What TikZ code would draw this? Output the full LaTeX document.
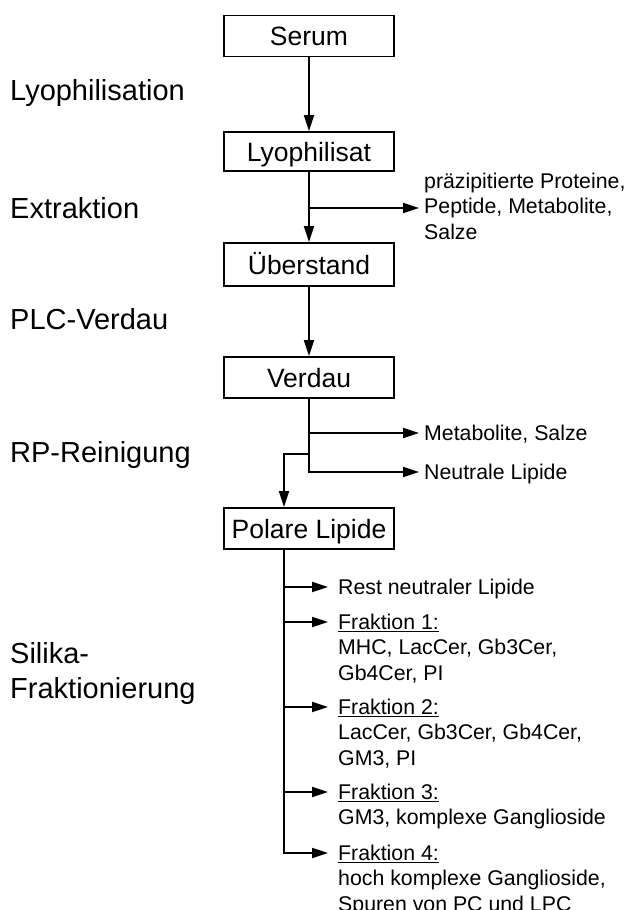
\documentclass[tikz,border=0pt]{standalone}
\usepackage{fontspec}
\setmainfont{Liberation Sans}
\usetikzlibrary{arrows.meta}
\newcommand\phasefont{\fontsize{29}{35}\selectfont}
\newcommand\boxfont{\fontsize{26.5}{32}\selectfont}
\newcommand\sidefont{\fontsize{21.3}{25.5}\selectfont}
\newcommand\fkline[1]{\setbox0\hbox{#1}\rlap{\rule[-3.2pt]{\wd0}{1.2pt}}\box0}
\newcommand\lines[1]{\begin{tabular}[t]{@{}l@{}}#1\end{tabular}}
\begin{document}
\begin{tikzpicture}[x=1pt,y=-1pt,
  stepbox/.style={draw,line width=1.8pt,minimum width=170pt,minimum height=41pt,inner sep=0pt,font=\boxfont,text height=19pt,text depth=0pt},
  phase/.style={anchor=base west,inner sep=0pt,font=\phasefont},
  side/.style={anchor=base west,inner sep=0pt,font=\sidefont},
  flow/.style={line width=1.8pt,-{Triangle[length=16pt,width=10pt]}}]
\useasboundingbox (0,0) rectangle (626,910);

% main boxes
\node[stepbox] (serum) at (309,36) {Serum};
\node[stepbox,minimum height=39pt] (lyo) at (309,151.5) {Lyophilisat};
\node[stepbox,minimum height=43pt] (ueber) at (309,264.5) {Überstand};
\node[stepbox] (verdau) at (309,377.5) {Verdau};
\node[stepbox] (polar) at (309,528.5) {Polare Lipide};

% phase labels
\node[phase] (p1) at (10,100) {Lyophilisation};
\node[phase] (p2) at (10,218) {Extraktion};
\node[phase] (p3) at (10,329) {PLC-Verdau};
\node[phase] (p4) at (10,462) {RP-Reinigung};
\node[phase] (p5) at (10,663) {\lines{Silika-\\Fraktionierung}};

% side products
\node[side] (s1) at (424,188) {\lines{präzipitierte Proteine,\\Peptide, Metabolite,\\Salze}};
\node[side] (s2) at (424,440) {Metabolite, Salze};
\node[side] (s3) at (424,479) {Neutrale Lipide};
\node[side] (f0) at (338,594) {Rest neutraler Lipide};
\node[side] (f1) at (338,629) {\lines{\fkline{Fraktion 1:}\\MHC, LacCer, Gb3Cer,\\Gb4Cer, PI}};
\node[side] (f2) at (338,714) {\lines{\fkline{Fraktion 2:}\\LacCer, Gb3Cer, Gb4Cer,\\GM3, PI}};
\node[side] (f3) at (338,799) {\lines{\fkline{Fraktion 3:}\\GM3, komplexe Ganglioside}};
\node[side] (f4) at (338,860) {\lines{\fkline{Fraktion 4:}\\hoch komplexe Ganglioside,\\Spuren von PC und LPC}};

% connectors
\draw[flow] (serum) -- (lyo);
\draw[flow] (lyo) -- (ueber);
\coordinate (b1) at (309,208);
\coordinate (t1) at (419,208);
\draw[flow] (b1) -- (t1);
\draw[flow] (ueber) -- (verdau);

\coordinate (b2) at (309,433);
\coordinate (t2) at (419,433);
\coordinate (b3) at (309,472);
\coordinate (t3) at (419,472);
\coordinate (b4) at (309,454);
\coordinate (k4) at (284,454);
\draw[flow] (verdau.south) -- (b3) -- (t3);
\draw[flow] (b2) -- (t2);
\draw[flow] (b4) -- (k4) -- (k4 |- polar.north);

\coordinate (c0) at (284,587);
\coordinate (c1) at (284,622);
\coordinate (c2) at (284,707);
\coordinate (c3) at (284,792);
\coordinate (c4) at (284,853);
\coordinate (e0) at (328,587);
\coordinate (e1) at (328,622);
\coordinate (e2) at (328,707);
\coordinate (e3) at (328,792);
\coordinate (e4) at (328,853);
\draw[flow] (polar.south -| k4) -- (c4) -- (e4);
\draw[flow] (c0) -- (e0);
\draw[flow] (c1) -- (e1);
\draw[flow] (c2) -- (e2);
\draw[flow] (c3) -- (e3);
\end{tikzpicture}
\end{document}
